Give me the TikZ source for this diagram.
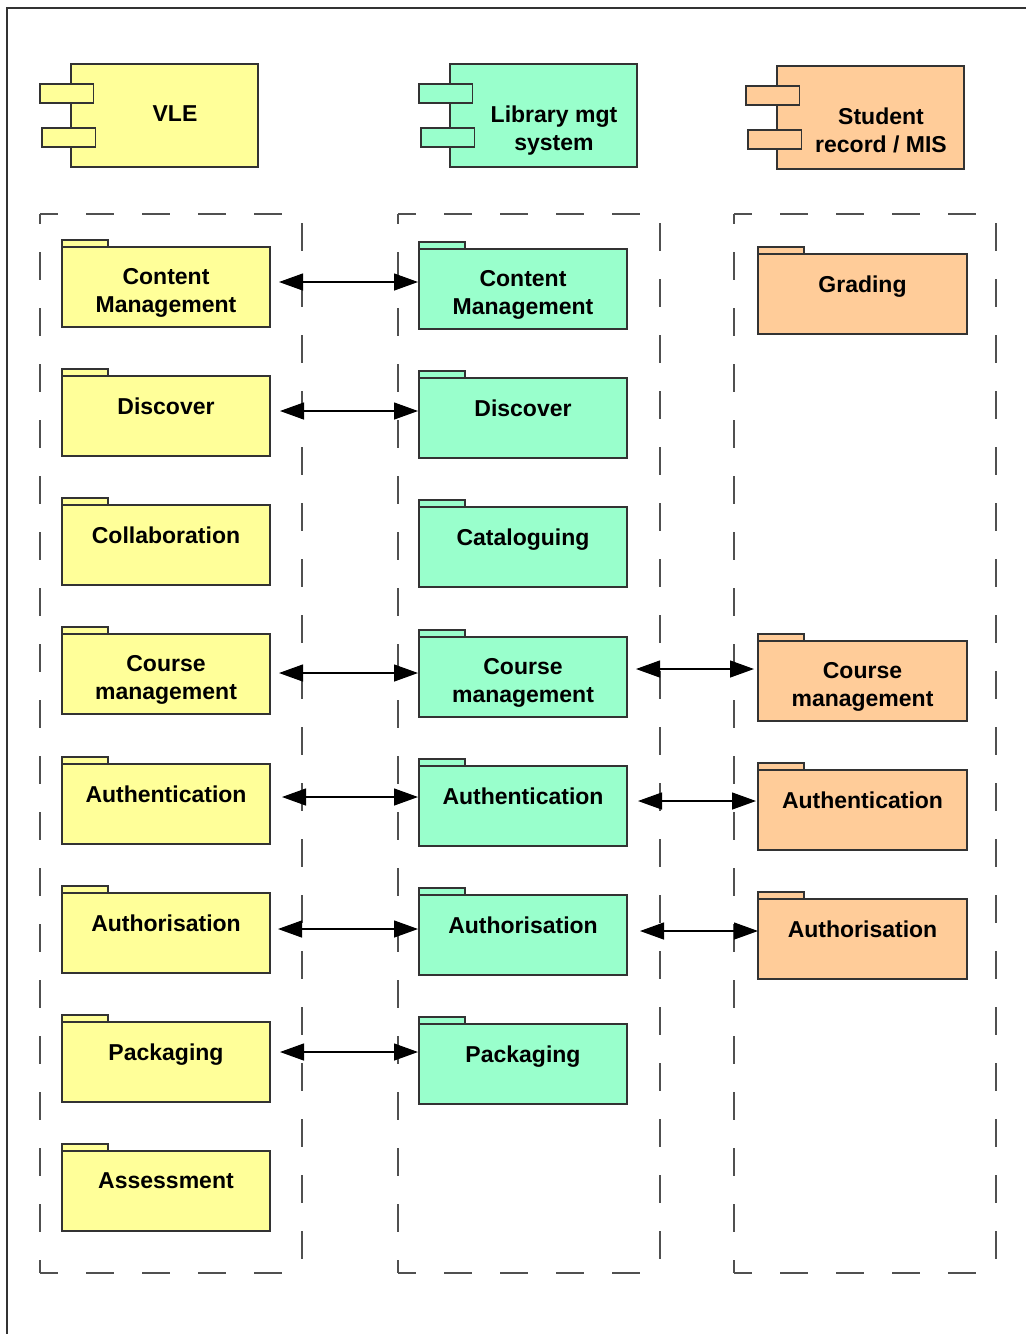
\documentclass[tikz,border=0pt]{standalone}
\usepackage{fontspec}
\setmainfont{Liberation Sans}
\usetikzlibrary{arrows.meta}

\definecolor{vleyellow}{HTML}{FFFF99}
\definecolor{libgreen}{HTML}{99FFCC}
\definecolor{misorange}{HTML}{FFCC99}
\definecolor{edgegrey}{HTML}{333333}
\definecolor{dashgrey}{HTML}{505050}

\tikzset{
  umlbox/.style={draw=edgegrey, line width=1.2pt, rectangle, inner sep=0pt, outer sep=0pt, anchor=north west},
  tabbox/.style={draw=edgegrey, line width=1.2pt},
  pkgtext/.style={font=\bfseries\fontsize{23}{28}\selectfont, align=center, inner sep=0pt, anchor=north},
  lanedash/.style={draw=dashgrey, line width=1.2pt, dash pattern=on 28pt off 28pt},
  assoc/.style={line width=1.3pt, {Triangle[length=24pt,width=17pt]}-{Triangle[length=24pt,width=17pt]}},
}

% package: name, left x, top y of body, width, fill, text
\newcommand\pkgbox[6]{%
  \draw[tabbox, fill=#5] (#2,#3-7) rectangle ++(46,7);
  \node[umlbox, fill=#5, minimum width=#4pt, minimum height=80pt] (#1) at (#2,#3) {};
  \node[pkgtext] (#1-t) at ([yshift=-21.5pt]#1.north) {#6};
}

% component: name, left x, top y, fill, text, text centre x
\newcommand\compbox[6]{%
  \node[umlbox, fill=#4, minimum width=187pt, minimum height=103pt] (#1) at (#2,#3) {};
  \draw[tabbox, fill=#4] (#2-31,#3+20) rectangle ++(53.5,19);
  \draw[tabbox, fill=#4] (#2-29,#3+64) rectangle ++(53.5,19);
  \node[pkgtext] (#1-t) at (#6,#3+41.5) {#5};
}

% dashed lane: x1, y1, x2, y2
\newcommand\lanebox[4]{%
  \draw[lanedash, dash phase=10pt] (#1,#2) -- (#3,#2);
  \draw[lanedash, dash phase=18pt] (#1,#2) -- (#1,#4);
  \draw[lanedash] (#3,#2+9) -- (#3,#4);
  \draw[lanedash, dash phase=10pt] (#1,#4) -- (#3,#4);
}

\begin{document}
\begin{tikzpicture}[x=1pt, y=-1pt]
\useasboundingbox (0,0) rectangle (1026,1334);

% outer frame
\draw[edgegrey, line width=1.2pt] (7,1334) -- (7,8) -- (1026,8);

% systems
\compbox{vle}{71}{64}{vleyellow}{VLE}{175}
\compbox{lib}{450}{64}{libgreen}{Library mgt\\system}{554}
\compbox{mis}{777}{66}{misorange}{Student\\record / MIS}{881}

% lanes
\lanebox{40}{214}{302}{1273}
\lanebox{398}{214}{660}{1273}
\lanebox{734}{214}{996}{1273}

% VLE packages
\pkgbox{vle-cm}{62}{247}{208}{vleyellow}{Content\\Management}
\pkgbox{vle-disc}{62}{376}{208}{vleyellow}{Discover}
\pkgbox{vle-collab}{62}{505}{208}{vleyellow}{Collaboration}
\pkgbox{vle-course}{62}{634}{208}{vleyellow}{Course\\management}
\pkgbox{vle-authn}{62}{764}{208}{vleyellow}{Authentication}
\pkgbox{vle-authz}{62}{893}{208}{vleyellow}{Authorisation}
\pkgbox{vle-pack}{62}{1022}{208}{vleyellow}{Packaging}
\pkgbox{vle-assess}{62}{1151}{208}{vleyellow}{Assessment}

% library packages
\pkgbox{lib-cm}{419}{249}{208}{libgreen}{Content\\Management}
\pkgbox{lib-disc}{419}{378}{208}{libgreen}{Discover}
\pkgbox{lib-cat}{419}{507}{208}{libgreen}{Cataloguing}
\pkgbox{lib-course}{419}{637}{208}{libgreen}{Course\\management}
\pkgbox{lib-authn}{419}{766}{208}{libgreen}{Authentication}
\pkgbox{lib-authz}{419}{895}{208}{libgreen}{Authorisation}
\pkgbox{lib-pack}{419}{1024}{208}{libgreen}{Packaging}

% student record packages
\pkgbox{mis-grade}{758}{254}{209}{misorange}{Grading}
\pkgbox{mis-course}{758}{641}{209}{misorange}{Course\\management}
\pkgbox{mis-authn}{758}{770}{209}{misorange}{Authentication}
\pkgbox{mis-authz}{758}{899}{209}{misorange}{Authorisation}

% connector heights
\coordinate (r-cm) at (0,282);
\coordinate (r-disc) at (0,411);
\coordinate (r-course) at (0,673);
\coordinate (r-authn) at (0,797);
\coordinate (r-authz) at (0,929);
\coordinate (r-pack) at (0,1052);
\coordinate (s-course) at (0,669);
\coordinate (s-authn) at (0,801);
\coordinate (s-authz) at (0,931);

% VLE <-> library
\draw[assoc, shorten <=9pt, shorten >=1pt] (vle-cm.east |- r-cm) -- (lib-cm.west |- r-cm);
\draw[assoc, shorten <=10pt, shorten >=1pt] (vle-disc.east |- r-disc) -- (lib-disc.west |- r-disc);
\draw[assoc, shorten <=9pt, shorten >=1pt] (vle-course.east |- r-course) -- (lib-course.west |- r-course);
\draw[assoc, shorten <=12pt, shorten >=1pt] (vle-authn.east |- r-authn) -- (lib-authn.west |- r-authn);
\draw[assoc, shorten <=8pt, shorten >=1pt] (vle-authz.east |- r-authz) -- (lib-authz.west |- r-authz);
\draw[assoc, shorten <=10pt, shorten >=1pt] (vle-pack.east |- r-pack) -- (lib-pack.west |- r-pack);

% library <-> student record
\draw[assoc, shorten <=9pt, shorten >=4pt] (lib-course.east |- s-course) -- (mis-course.west |- s-course);
\draw[assoc, shorten <=11pt, shorten >=2pt] (lib-authn.east |- s-authn) -- (mis-authn.west |- s-authn);
\draw[assoc, shorten <=13pt, shorten >=0pt] (lib-authz.east |- s-authz) -- (mis-authz.west |- s-authz);
\end{tikzpicture}
\end{document}
